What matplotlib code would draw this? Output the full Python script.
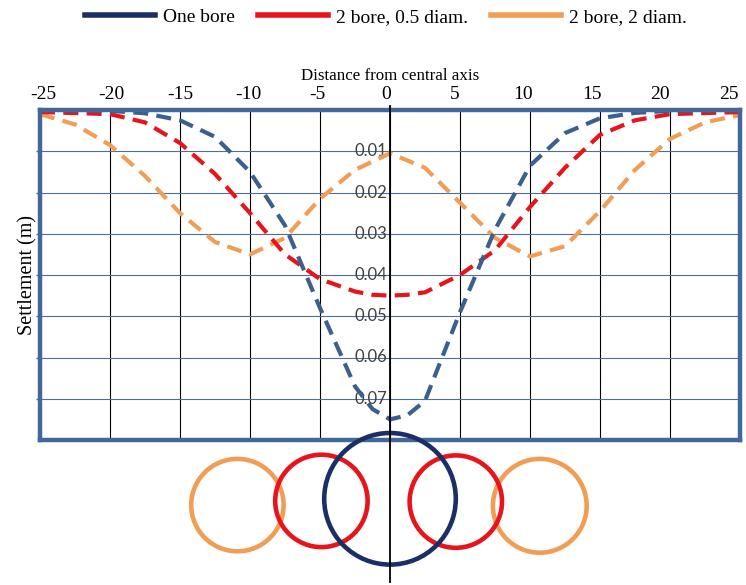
import matplotlib
matplotlib.use("Agg")
import matplotlib.pyplot as plt
from matplotlib.lines import Line2D
from matplotlib.patches import Circle

# ---------------- data ----------------
distance = [-25, -20, -17.5, -15, -12.5, -10, -7.5, -5, -2.5, -1.25, 0, 1.25, 2.5, 5, 7.5, 10, 12.5, 15, 17.5, 20, 25]
one_bore = [0.0, 0.0002, 0.0008, 0.0025, 0.0065, 0.015, 0.028, 0.048, 0.067, 0.0725, 0.075, 0.074, 0.0705, 0.049, 0.029, 0.0135, 0.0056, 0.002, 0.0007, 0.0002, 0.0]
two_bore_05 = [0.0005, 0.001, 0.003, 0.008, 0.0155, 0.025, 0.035, 0.041, 0.044, 0.0448, 0.045, 0.0448, 0.0442, 0.040, 0.034, 0.0235, 0.014, 0.006, 0.0025, 0.001, 0.0005]
distance_b = [-25, -22.5, -20, -17.5, -15, -12.5, -10, -7.5, -5, -2.5, 0, 2.5, 5, 7.5, 10, 12.5, 15, 17.5, 20, 22.5, 25]
two_bore_2 = [0.001, 0.0035, 0.0085, 0.016, 0.025, 0.032, 0.035, 0.031, 0.0215, 0.0145, 0.0105, 0.014, 0.0225, 0.031, 0.0355, 0.033, 0.0245, 0.0145, 0.007, 0.003, 0.0012]

series_names = ["One bore", "2 bore, 0.5 diam.", "2 bore, 2 diam."]
x_ticks = [-25, -20, -15, -10, -5, 0, 5, 10, 15, 20, 25]
y_ticks = [0.01, 0.02, 0.03, 0.04, 0.05, 0.06, 0.07]
y_tick_labels = ["0.01", "0.02", "0.03", "0.04", "0.05", "0.06", "0.07"]

# bore sketch (centre position, radius) in distance units
bores_one = [(0.0, 4.7)]
bores_05 = [(-4.9, 3.3), (4.7, 3.3)]
bores_2 = [(-10.9, 3.3), (10.7, 3.35)]

# ---------------- style ----------------
navy_line = "#3B5F8E"
navy_dark = "#1B2F66"
red = "#E8141B"
orange = "#F29D55"
frame_col = "#41679B"
hgrid_col = "#4D6E9E"
serif = ["Liberation Serif", "DejaVu Serif"]

W, H = 746, 585
fig = plt.figure(figsize=(W / 100, H / 100), dpi=100)
L, R, T, B = 40, 740, 110, 440
ax = fig.add_axes([L / W, 1 - B / H, (R - L) / W, (B - T) / H])

ax.set_xlim(-25, 25)
ax.set_ylim(0.08, 0)

dash = (3.6, 2.0)
ax.plot(distance_b, two_bore_2, color=orange, lw=3.0, dashes=dash, zorder=3)
ax.plot(distance, two_bore_05, color=red, lw=3.0, dashes=dash, zorder=4)
ax.plot(distance, one_bore, color=navy_line, lw=3.0, dashes=dash, zorder=5)

# grid
for xv in x_ticks[1:-1]:
    ax.axvline(xv, color="black", lw=0.8, zorder=1)
for yv in y_ticks:
    ax.axhline(yv, color=hgrid_col, lw=0.8, zorder=1)

# frame
for s in ax.spines.values():
    s.set_color(frame_col)
    s.set_linewidth(3.2)
    s.set_zorder(6)

ax.set_xticks([])
ax.tick_params(axis="x", top=False, bottom=False, labelbottom=False, labeltop=False)

# the category labels sit on a slightly narrower scale (px 43..729) than the frame
px_unit = (R - L) / 50.0
lab_left, lab_right = 43, 729
lab_unit = (lab_right - lab_left) / 50.0


def fwd(x):
    return ((x + 25) * px_unit + L - lab_left) / lab_unit - 25


def inv(v):
    return ((v + 25) * lab_unit + lab_left - L) / px_unit - 25


sec = ax.secondary_xaxis("top", functions=(fwd, inv))
sec.set_xticks(x_ticks)
sec.set_xticklabels([str(v) for v in x_ticks], fontfamily=serif, fontsize=14)
sec.tick_params(axis="x", length=0, pad=5)
sec.spines["top"].set_visible(False)
sec.set_xlabel("Distance from central axis", fontfamily=serif, fontsize=12.2, labelpad=4)

ax.set_yticks(y_ticks)
ax.set_yticklabels([])
ax.tick_params(axis="y", left=True, length=3, color=frame_col, width=1)
ax.set_ylabel("Settlement (m)", fontfamily=serif, fontsize=14.5, labelpad=-5)

for yv, lab in zip(y_ticks, y_tick_labels):
    ax.text(-0.2, yv, lab, ha="right", va="center", fontsize=12,
            family=["Lato", "DejaVu Sans"], color="#404040", zorder=2)

# bore sketch axes below
bax = fig.add_axes([L / W, 0, (R - L) / W, (H - B) / H])
bax.set_xlim(-25, 25)
bax.set_ylim((H - B) / px_unit, 0)
bax.axis("off")
bax.patch.set_alpha(0)

for (cx, r), cy in zip(bores_2, [4.65, 4.7]):
    bax.add_patch(Circle((cx, cy), r, fill=False, ec=orange, lw=3.3, clip_on=False))
for (cx, r), cy in zip(bores_05, [4.35, 4.4]):
    bax.add_patch(Circle((cx, cy), r, fill=False, ec=red, lw=3.3, clip_on=False))
for (cx, r) in bores_one:
    bax.add_patch(Circle((cx, 4.2), r, fill=False, ec=navy_dark, lw=3.3, clip_on=False, zorder=3))

# centre vertical line spanning plot and sketch
fig.add_artist(Line2D([390 / W, 390 / W], [1 - 106 / H, 1 - 582 / H], color="black", lw=1.3,
                      transform=fig.transFigure, zorder=10))

handles = [Line2D([], [], color=navy_dark, lw=4),
           Line2D([], [], color=red, lw=4),
           Line2D([], [], color=orange, lw=4)]
fig.legend(handles, series_names, loc="center", bbox_to_anchor=(386 / W, 1 - 17 / H), ncol=3,
           frameon=False, prop={"family": serif, "size": 14},
           handlelength=3.6, handletextpad=0.4, columnspacing=1.2,
           borderpad=0, borderaxespad=0)

fig.savefig("out.png", dpi=100)
